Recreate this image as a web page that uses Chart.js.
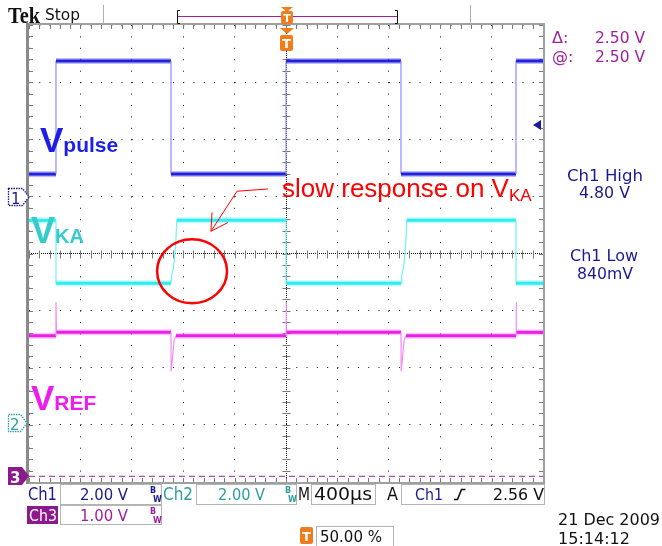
<!DOCTYPE html>
<html>
<head>
<meta charset="utf-8">
<script src="https://cdn.jsdelivr.net/npm/chart.js@4.4.1/dist/chart.umd.min.js"></script>
<style>
  body { margin: 0; background: #fff; }
  #wrap { position: relative; width: 662px; height: 546px; overflow: hidden; }
  #scope { position: absolute; left: 0; top: 0; }
  #ov { position: absolute; left: 0; top: 0; pointer-events: none; }
  #ov text { font-family: "DejaVu Sans", sans-serif; }
  #ov .lbl { font-family: "Liberation Sans", Arial, sans-serif; font-weight: bold; }
</style>
</head>
<body>
<div id="wrap">
<canvas id="scope" width="662" height="546"></canvas>
<svg id="ov" width="662" height="546" viewBox="0 0 662 546">
  <!-- top status bar -->
  <text x="8" y="23" style="font-family:'Liberation Serif',serif" font-weight="bold" font-size="24" textLength="32" lengthAdjust="spacingAndGlyphs" fill="#111">Tek</text>
  <text x="45" y="20" font-size="16" textLength="35" lengthAdjust="spacingAndGlyphs" fill="#111">Stop</text>
  <line x1="103.5" y1="5" x2="103.5" y2="24" stroke="#b0b0b0"/>
  <line x1="470.5" y1="5" x2="470.5" y2="24" stroke="#b0b0b0"/>
  <path d="M180,10.5 H177.5 V23.5 H180" stroke="#111" fill="none"/>
  <path d="M395,10.5 H397.5 V23.5 H395" stroke="#111" fill="none"/>
  <line x1="178" y1="16.5" x2="397" y2="16.5" stroke="#a01ea0"/>
  <path d="M281,7 H293 L287,12 Z" fill="#f07c1c"/>
  <rect x="281" y="11" width="12" height="13" rx="2" fill="#f07c1c"/>
  <text x="287" y="22" font-size="11" font-weight="bold" fill="#fff" text-anchor="middle">T</text>
  <path d="M280,28 H294 L287,34 Z" fill="#f07c1c"/>
  <rect x="280" y="35" width="13" height="16" rx="2" fill="#f07c1c"/>
  <text x="286.5" y="48" font-size="13" font-weight="bold" fill="#fff" text-anchor="middle">T</text>

  <!-- right readouts -->
  <text x="552" y="43" font-size="16" fill="#a01ea0">Δ:</text>
  <text x="595" y="43" font-size="16" textLength="50" lengthAdjust="spacingAndGlyphs" fill="#a01ea0">2.50 V</text>
  <text x="552" y="62" font-size="16" fill="#a01ea0">@:</text>
  <text x="595" y="62" font-size="16" textLength="50" lengthAdjust="spacingAndGlyphs" fill="#a01ea0">2.50 V</text>
  <text x="567" y="181" font-size="16" textLength="76" lengthAdjust="spacingAndGlyphs" fill="#1a1a8e">Ch1 High</text>
  <text x="579" y="198" font-size="16" textLength="51" lengthAdjust="spacingAndGlyphs" fill="#1a1a8e">4.80 V</text>
  <text x="570" y="261" font-size="16" textLength="68" lengthAdjust="spacingAndGlyphs" fill="#1a1a8e">Ch1 Low</text>
  <text x="577" y="279" font-size="16" textLength="56" lengthAdjust="spacingAndGlyphs" fill="#1a1a8e">840mV</text>

  <!-- channel ground markers -->
  <polygon points="8.5,188.5 22.5,188.5 29,197 22.5,205.5 8.5,205.5" fill="#fff" stroke="#1a1a8e" stroke-width="1.3" stroke-dasharray="1.5,1"/>
  <text x="11" y="204" font-size="15" fill="#1a1a8e">1</text>
  <polygon points="8.5,414.5 20.5,414.5 27,423 20.5,431.5 8.5,431.5" fill="#fff" stroke="#2e9e9e" stroke-width="1.3" stroke-dasharray="1.5,1"/>
  <text x="10" y="430" font-size="15" fill="#2e9e9e">2</text>
  <polygon points="8,467 22,467 29,476 22,485 8,485" fill="#8c1a8c"/>
  <text x="10" y="483" font-size="15" font-weight="bold" fill="#fff">3</text>

  <!-- trace labels and annotation -->
  <text class="lbl" x="40" y="152" font-size="35" fill="#1e1ee8">V<tspan font-size="21">pulse</tspan></text>
  <text class="lbl" x="31" y="243" font-size="36" fill="#36cccc">V<tspan font-size="20">KA</tspan></text>
  <text class="lbl" x="31" y="410" font-size="35" fill="#ee1cee">V<tspan font-size="21">REF</tspan></text>
  <text x="282" y="197" style="font-family:'Liberation Sans',Arial,sans-serif" font-size="26" fill="#ff0000">slow response on V<tspan font-size="17" dy="4">KA</tspan></text>

  <!-- bottom readout boxes -->
  <text x="28" y="500" font-size="17" textLength="29" lengthAdjust="spacingAndGlyphs" fill="#1a1a8e">Ch1</text>
  <rect x="60.5" y="484.5" width="101" height="20" fill="none" stroke="#b4b4b4"/>
  <text x="80" y="500" font-size="16" textLength="48" lengthAdjust="spacingAndGlyphs" fill="#1a1a8e">2.00 V</text>
  <text x="150" y="493" font-size="8" font-weight="bold" fill="#1a1a8e">B</text>
  <text x="153" y="502" font-size="8" font-weight="bold" fill="#1a1a8e">W</text>
  <text x="163" y="500" font-size="17" textLength="30" lengthAdjust="spacingAndGlyphs" fill="#2e9e9e">Ch2</text>
  <rect x="196.5" y="484.5" width="100" height="20" fill="none" stroke="#b4b4b4"/>
  <text x="218" y="500" font-size="16" textLength="47" lengthAdjust="spacingAndGlyphs" fill="#2e9e9e">2.00 V</text>
  <text x="285" y="493" font-size="8" font-weight="bold" fill="#2e9e9e">B</text>
  <text x="288" y="502" font-size="8" font-weight="bold" fill="#2e9e9e">W</text>
  <text x="298" y="500" font-size="17" textLength="12" lengthAdjust="spacingAndGlyphs" fill="#111">M</text>
  <rect x="311.5" y="484.5" width="64" height="20" fill="none" stroke="#b4b4b4"/>
  <text x="314" y="500" font-size="17" textLength="58" lengthAdjust="spacingAndGlyphs" fill="#111">400µs</text>
  <text x="387" y="500" font-size="17" textLength="11" lengthAdjust="spacingAndGlyphs" fill="#111">A</text>
  <rect x="401.5" y="484.5" width="143" height="20" fill="none" stroke="#b4b4b4"/>
  <text x="415" y="500" font-size="16" textLength="28" lengthAdjust="spacingAndGlyphs" fill="#1a1a8e">Ch1</text>
  <path d="M454,499.5 H457.5 L461.5,489.5 H465.5" stroke="#111" stroke-width="1.6" fill="none"/>
  <text x="493" y="500" font-size="16" textLength="51" lengthAdjust="spacingAndGlyphs" fill="#111">2.56 V</text>

  <rect x="27" y="506" width="31" height="18" fill="#8c1a8c"/>
  <text x="29" y="521" font-size="16" textLength="28" lengthAdjust="spacingAndGlyphs" fill="#fff">Ch3</text>
  <rect x="60.5" y="505.5" width="101" height="19" fill="none" stroke="#b4b4b4"/>
  <text x="80" y="521" font-size="16" textLength="48" lengthAdjust="spacingAndGlyphs" fill="#a01ea0">1.00 V</text>
  <text x="150" y="514" font-size="8" font-weight="bold" fill="#a01ea0">B</text>
  <text x="153" y="523" font-size="8" font-weight="bold" fill="#a01ea0">W</text>

  <rect x="300" y="527" width="13" height="17" rx="2" fill="#f07c1c"/>
  <text x="306.5" y="541" font-size="13" font-weight="bold" fill="#fff" text-anchor="middle">T</text>
  <rect x="316.5" y="526.5" width="77" height="20" fill="none" stroke="#b4b4b4"/>
  <text x="320" y="542" font-size="16" textLength="62" lengthAdjust="spacingAndGlyphs" fill="#111">50.00 %</text>

  <text x="558" y="525" font-size="16" textLength="102" lengthAdjust="spacingAndGlyphs" fill="#111">21 Dec  2009</text>
  <text x="558" y="544" font-size="16" textLength="72" lengthAdjust="spacingAndGlyphs" fill="#111">15:14:12</text>
</svg>
</div>
<script>
// horizontal: 400 us/div, 10 divisions, trigger in the middle
const usPerDiv = 400;
const timeMin = -2000;
const timeMax = 2000;

// channel settings from the readout (V/div) and ground markers (div from centre)
const chVoltsPerDiv = [2.00, 2.00, 1.00];
const chGroundDiv = [0.97, -2.97, -3.90];
const trigLevel = 2.56;

// Ch1 - Vpulse
const vpulseTime = [-2000, -1790, -1790, -895, -895, 0, 0, 895, 895, 1790, 1790, 2000];
const vpulseVolts = [0.84, 0.84, 4.80, 4.80, 0.84, 0.84, 4.80, 4.80, 0.84, 0.84, 4.80, 4.80];

// Ch2 - VKA (slow rise after Vpulse falls)
const vkaTime = [-2000, -1790, -1790, -895, -889, -875, -865, -857, -850, 0, 0, 895, 901, 915, 925, 933, 940, 1790, 1790, 2000];
const vkaVolts = [7.1, 7.1, 4.9, 4.9, 5.2, 5.45, 5.9, 6.4, 7.1, 7.1, 4.9, 4.9, 5.2, 5.45, 5.9, 6.4, 7.1, 7.1, 4.9, 4.9];

// Ch3 - VREF with glitches on each edge
const vrefTime = [-2000, -1790, -1790, -1786, -895, -894, -886, -878, -870, -856, 0, 0, 4, 895, 896, 904, 912, 920, 934, 1790, 1790, 1794, 2000];
const vrefVolts = [2.46, 2.46, 3.05, 2.52, 2.52, 1.84, 2.0, 2.21, 2.39, 2.46, 2.46, 3.05, 2.52, 2.52, 1.84, 2.0, 2.21, 2.39, 2.46, 2.46, 3.05, 2.52, 2.52];

// Ch3 ground reference (dashed)
const ch3RefTime = [-2000, 2000];
const ch3RefVolts = [0, 0];

// red circle and arrow (time us, divisions)
const circleAt = [-731, -0.31];
const circleR = [272, 0.56];
const arrowTime = [-140, -381, -584];
const arrowDiv = [1.13, 1.09, 0.39];

const pts = (t, v) => t.map((x, i) => ({x: x, y: v[i]}));
const isEdge = c => Math.abs(c.p1.y - c.p0.y) > Math.abs(c.p1.x - c.p0.x) * 1.5;

function trace(label, time, volts, axis, level, edge) {
  return {
    label: label, yAxisID: axis, data: pts(time, volts), order: 1,
    borderColor: level, borderWidth: 3, pointRadius: 0, tension: 0,
    segment: {
      borderColor: c => isEdge(c) ? edge : level,
      borderWidth: c => isEdge(c) ? 1.2 : 3
    }
  };
}
function halo(time, volts, axis, color) {
  return {
    label: '', yAxisID: axis, data: pts(time, volts), order: 2,
    borderColor: color, borderWidth: 6, pointRadius: 0, tension: 0,
    segment: { borderColor: c => isEdge(c) ? 'rgba(0,0,0,0)' : color }
  };
}
function chAxis(i) {
  return {
    axis: 'y', position: 'left', display: false,
    min: (-4 - chGroundDiv[i]) * chVoltsPerDiv[i],
    max: (4 - chGroundDiv[i]) * chVoltsPerDiv[i]
  };
}

const scopeDecor = {
  id: 'scopeDecor',
  beforeDatasetsDraw(chart) {
    const {ctx, chartArea: a, scales} = chart;
    const x = scales.x, y = scales.y;
    const cx = Math.round(x.getPixelForValue(0)) + 0.5;
    const cy = Math.round(y.getPixelForValue(0)) + 0.5;
    ctx.save();
    ctx.strokeStyle = '#7a7a7a';
    ctx.lineWidth = 1;
    ctx.beginPath();
    for (let i = 0; i <= 50; i++) {
      const px = Math.round(x.getPixelForValue(timeMin + i * usPerDiv / 5)) + 0.5;
      ctx.moveTo(px, cy - 4); ctx.lineTo(px, cy + 4);
      ctx.moveTo(px, a.top); ctx.lineTo(px, a.top + 4);
      ctx.moveTo(px, a.bottom); ctx.lineTo(px, a.bottom - 4);
    }
    for (let i = 0; i <= 40; i++) {
      const py = Math.round(y.getPixelForValue(-4 + i / 5)) + 0.5;
      ctx.moveTo(cx - 4, py); ctx.lineTo(cx + 4, py);
      ctx.moveTo(a.left, py); ctx.lineTo(a.left + 4, py);
      ctx.moveTo(a.right, py); ctx.lineTo(a.right - 4, py);
    }
    ctx.stroke();
    // graticule frame
    ctx.strokeStyle = '#a0a0a0';
    ctx.lineWidth = 2;
    ctx.strokeRect(a.left - 1, a.top - 1, a.width + 2, a.height + 2);
    ctx.fillStyle = '#8a8a8a';
    ctx.fillRect(a.left - 3, a.top - 2, 3, a.height + 4);
    ctx.restore();
  },
  afterDatasetsDraw(chart) {
    const {ctx, chartArea: a, scales} = chart;
    const x = scales.x, y = scales.y;
    ctx.save();
    // ch1 trigger level marker
    const ty = scales.ch1.getPixelForValue(trigLevel);
    ctx.fillStyle = '#1a1a9e';
    ctx.beginPath();
    ctx.moveTo(a.right - 10, ty);
    ctx.lineTo(a.right - 2, ty - 5);
    ctx.lineTo(a.right - 2, ty + 5);
    ctx.closePath();
    ctx.fill();
    // red circle
    const ex = x.getPixelForValue(circleAt[0]);
    const ey = y.getPixelForValue(circleAt[1]);
    const rx = Math.abs(x.getPixelForValue(circleAt[0] + circleR[0]) - ex);
    const ry = Math.abs(y.getPixelForValue(circleAt[1] + circleR[1]) - ey);
    ctx.strokeStyle = '#ff0000';
    ctx.lineWidth = 2.5;
    ctx.beginPath();
    ctx.ellipse(ex, ey, rx, ry, 0, 0, Math.PI * 2);
    ctx.stroke();
    // arrow
    const ap = arrowTime.map((t, i) => [x.getPixelForValue(t), y.getPixelForValue(arrowDiv[i])]);
    ctx.lineWidth = 1;
    ctx.beginPath();
    ap.forEach((p, i) => i ? ctx.lineTo(p[0], p[1]) : ctx.moveTo(p[0], p[1]));
    const tip = ap[ap.length - 1], prev = ap[ap.length - 2];
    const ang = Math.atan2(prev[1] - tip[1], prev[0] - tip[0]);
    [-0.52, 0.52].forEach(d => {
      ctx.moveTo(tip[0], tip[1]);
      ctx.lineTo(tip[0] + 19 * Math.cos(ang + d), tip[1] + 19 * Math.sin(ang + d));
    });
    ctx.stroke();
    ctx.restore();
  }
};

new Chart(document.getElementById('scope').getContext('2d'), {
  type: 'line',
  data: {
    datasets: [
      trace('Vpulse', vpulseTime, vpulseVolts, 'ch1', '#2222d8', '#8c8cff'),
      trace('VKA', vkaTime, vkaVolts, 'ch2', '#30ecee', '#6ef4f6'),
      trace('VREF', vrefTime, vrefVolts, 'ch3', '#e820e8', '#f58cf5'),
      {
        label: 'Ch3 ref', yAxisID: 'ch3', data: pts(ch3RefTime, ch3RefVolts), order: 1,
        borderColor: '#a01ea0', borderWidth: 1, borderDash: [6, 4], pointRadius: 0
      },
      halo(vpulseTime, vpulseVolts, 'ch1', 'rgba(70,70,245,0.35)'),
      halo(vkaTime, vkaVolts, 'ch2', 'rgba(70,235,240,0.35)'),
      halo(vrefTime, vrefVolts, 'ch3', 'rgba(240,70,240,0.3)')
    ]
  },
  options: {
    responsive: false,
    animation: false,
    devicePixelRatio: 1,
    layout: { padding: { left: 29, top: 25, right: 119, bottom: 64 } },
    plugins: { legend: { display: false }, tooltip: { enabled: false } },
    scales: {
      x: {
        type: 'linear', min: timeMin, max: timeMax,
        ticks: { display: false, stepSize: usPerDiv },
        grid: { color: '#111', lineWidth: 1, drawTicks: false },
        border: { display: false, dash: c => (c.tick && c.tick.value === 0) ? [1, 1] : [1, 10.425] }
      },
      y: {
        type: 'linear', min: -4, max: 4,
        ticks: { display: false, stepSize: 1 },
        grid: { color: '#111', lineWidth: 1, drawTicks: false },
        border: { display: false, dash: c => (c.tick && c.tick.value === 0) ? [1, 1] : [1, 9.28] }
      },
      ch1: chAxis(0),
      ch2: chAxis(1),
      ch3: chAxis(2)
    }
  },
  plugins: [scopeDecor]
});
</script>
</body>
</html>
